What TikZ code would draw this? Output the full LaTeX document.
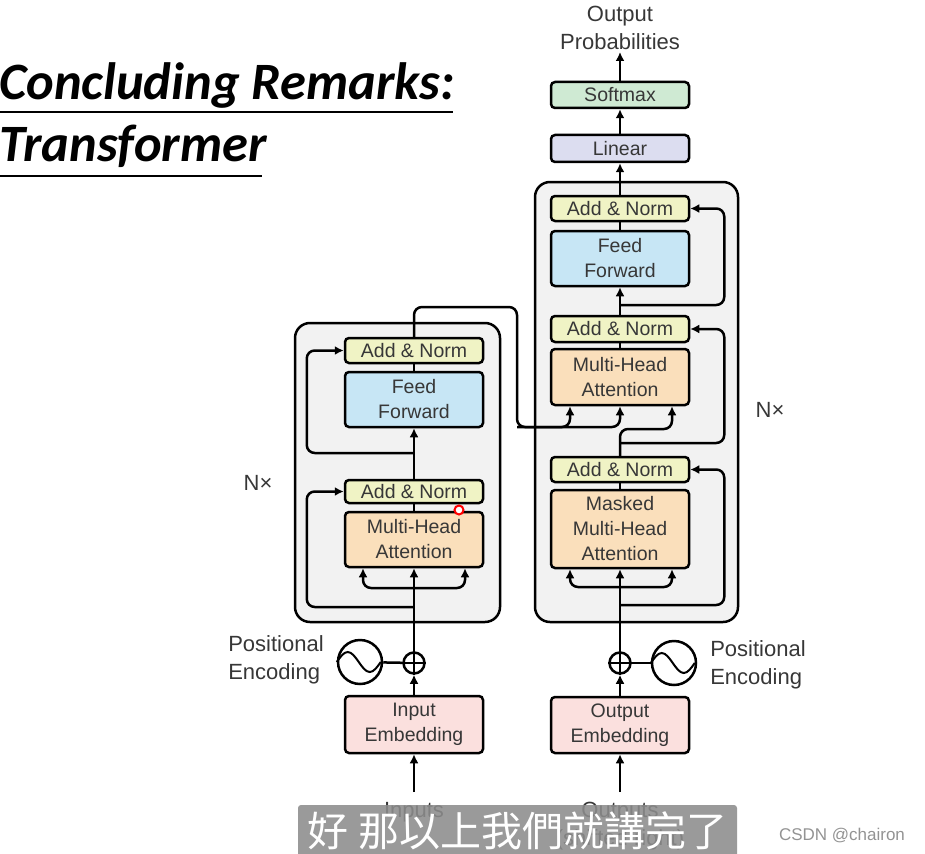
\documentclass[tikz,border=0pt]{standalone}
\usepackage{fontspec}
\setmainfont{Liberation Sans}
\newfontfamily\titlefont{Carlito}
\newfontfamily\cjk{Noto Sans CJK TC}
\usetikzlibrary{arrows.meta}
\definecolor{txt}{RGB}{55,55,55}
\definecolor{annorm}{RGB}{240,243,197}
\definecolor{ffblue}{RGB}{199,230,245}
\definecolor{attn}{RGB}{250,223,187}
\definecolor{smax}{RGB}{207,234,211}
\definecolor{lin}{RGB}{220,221,240}
\definecolor{embed}{RGB}{251,224,222}
\definecolor{stack}{RGB}{242,242,242}
\definecolor{subgray}{RGB}{140,140,140}

\begin{document}
\begin{tikzpicture}[x=1pt,y=-1pt]
    \tikzstyle{block}=[draw, line width=2.5pt, rounded corners=4pt, minimum width=138pt, inner sep=0pt, align=center, text=txt, font=\fontsize{19.5}{25}\selectfont]
    \tikzstyle{addnorm}=[block, fill=annorm, minimum height=25pt]
    \tikzstyle{feedfwd}=[block, fill=ffblue, minimum height=55pt]
    \tikzstyle{mha}=[block, fill=attn, minimum height=56pt]
    \tikzstyle{embedding}=[block, fill=embed, minimum height=57pt]
    \tikzstyle{stackbox}=[draw, fill=stack, line width=2.5pt, rounded corners=15pt]
    \tikzstyle{oplus}=[circle, draw, line width=2.5pt, minimum size=21pt, inner sep=0pt]
    \tikzstyle{wave}=[circle, draw, line width=2.5pt, minimum size=44pt, inner sep=0pt]
    \tikzstyle{lbl}=[text=txt, align=center, inner sep=2pt, font=\fontsize{22}{28}\selectfont]
    \tikzstyle{wire}=[line width=2.5pt, rounded corners=8pt]
    \tikzstyle{arr}=[wire, -{Latex[length=9pt,width=9pt]}]
    \useasboundingbox (0,0) rectangle (925,853);

    % title
    \node[anchor=base west, inner sep=0pt, font=\titlefont\bfseries\itshape\fontsize{52.5}{60}\selectfont] (title1) at (-1,100) {Concluding Remarks:};
    \node[anchor=base west, inner sep=0pt, font=\titlefont\bfseries\itshape\fontsize{52.5}{60}\selectfont] (title2) at (-1,161) {Transformer};
    \draw[line width=2pt] (0,112) -- (453,112);
    \draw[line width=2pt] (0,176) -- (262,176);

    % stacks
    \node[stackbox, minimum width=205pt, minimum height=299pt] (encBox) at (397.5,472.5) {};
    \node[stackbox, minimum width=203pt, minimum height=440pt] (decBox) at (636.5,402) {};

    % encoder
    \node[embedding] (encIn) at (414,724.5) {Input\\Embedding};
    \node[oplus] (encAdd) at (414,663) {};
    \draw[line width=2pt] (encAdd.north) -- (encAdd.south) (encAdd.west) -- (encAdd.east);
    \node[wave] (encPE) at (360,662) {};
    \draw[line width=2pt] (encPE.west) sin ++(11,-10) cos ++(11,10) sin ++(11,10) cos ++(11,-10);
    \node[mha, minimum height=55pt] (encMHA) at (414,539.5) {Multi-Head\\Attention};
    \node[addnorm, minimum height=23pt] (encAN1) at (414,491.5) {Add \& Norm};
    \node[feedfwd] (encFF) at (414,399.5) {Feed\\Forward};
    \node[addnorm] (encAN2) at (414,350.5) {Add \& Norm};

    % decoder
    \node[embedding, minimum height=56pt] (decIn) at (620,725) {Output\\Embedding};
    \node[oplus] (decAdd) at (620,663) {};
    \draw[line width=2pt] (decAdd.north) -- (decAdd.south) (decAdd.west) -- (decAdd.east);
    \node[wave] (decPE) at (674,663) {};
    \draw[line width=2pt] (decPE.west) sin ++(11,-10) cos ++(11,10) sin ++(11,10) cos ++(11,-10);
    \node[mha, minimum height=78pt] (decMMHA) at (620,529) {Masked\\Multi-Head\\Attention};
    \node[addnorm] (decAN1) at (620,469.5) {Add \& Norm};
    \node[mha] (decMHA) at (620,377) {Multi-Head\\Attention};
    \node[addnorm, minimum height=26pt] (decAN2) at (620,329) {Add \& Norm};
    \node[feedfwd] (decFF) at (620,258.5) {Feed\\Forward};
    \node[addnorm] (decAN3) at (620,208.5) {Add \& Norm};
    \node[block, fill=lin, minimum height=27pt] (linear) at (620,148.5) {Linear};
    \node[block, fill=smax, minimum height=26pt] (softmax) at (620,95) {Softmax};
    \node[lbl] (outProb) at (620,28) {Output\\Probabilities};

    % labels
    \node[lbl] (encN) at (258,483) {N×};
    \node[lbl] (decN) at (770,410) {N×};
    \node[lbl, align=left] (encPosLbl) at (276,660) {Positional\\Encoding};
    \node[lbl, align=left] (decPosLbl) at (758,665) {Positional\\Encoding};

    % encoder wires
    \coordinate (inputs) at (414,792);
    \coordinate (encSplit) at (414,588);
    \coordinate (encRes1) at (414,607);
    \coordinate (encRes2) at (414,453);
    \draw[arr] (inputs) -- (encIn);
    \draw[arr] (encIn) -- (encAdd);
    \draw[wire] (encPE) -- (encAdd);
    \draw[arr] (encAdd) -- (encMHA);
    \draw[arr] (encSplit) -| ([xshift=-51pt]encMHA.south);
    \draw[arr] (encSplit) -| ([xshift=51pt]encMHA.south);
    \draw[arr] (encRes1) -| ([xshift=-37pt]encAN1.west) -- (encAN1.west);
    \draw[wire] (encMHA) -- (encAN1);
    \draw[arr] (encAN1) -- (encFF);
    \draw[arr] (encRes2) -| ([xshift=-37pt]encAN2.west) -- (encAN2.west);
    \draw[wire] (encFF) -- (encAN2);

    % encoder to decoder
    \coordinate (memTop) at (517,307);
    \coordinate (memLow) at (517,427);
    \draw[arr] (encAN2.north) |- (memTop) -- (memLow) -| ([xshift=-50pt]decMHA.south);
    \draw[arr] (memLow) -| (decMHA.south);

    % decoder wires
    \coordinate (outputs) at (620,792);
    \coordinate (decSplit) at (620,587);
    \coordinate (decRes1) at (620,605);
    \coordinate (decQ) at (620,429);
    \coordinate (decRes2) at (620,443);
    \coordinate (decRes3) at (620,305);
    \draw[arr] (outputs) -- (decIn);
    \draw[arr] (decIn) -- (decAdd);
    \draw[wire] (decPE) -- (decAdd);
    \draw[arr] (decAdd) -- (decMMHA);
    \draw[arr] (decSplit) -| ([xshift=-50pt]decMMHA.south);
    \draw[arr] (decSplit) -| ([xshift=52pt]decMMHA.south);
    \draw[arr] (decRes1) -| ([xshift=34pt]decAN1.east) -- (decAN1.east);
    \draw[wire] (decMMHA) -- (decAN1);
    \draw[arr] (decAN1.north) -- (decQ) -| ([xshift=52pt]decMHA.south);
    \draw[arr] (decRes2) -| ([xshift=34pt]decAN2.east) -- (decAN2.east);
    \draw[wire] (decMHA) -- (decAN2);
    \draw[arr] (decAN2) -- (decFF);
    \draw[arr] (decRes3) -| ([xshift=34pt]decAN3.east) -- (decAN3.east);
    \draw[wire] (decFF) -- (decAN3);
    \draw[arr] (decAN3) -- (linear);
    \draw[arr] (linear) -- (softmax);
    \draw[arr] (softmax) -- (outProb);

    % inputs / outputs, under the subtitle
    \node[lbl] (inputsLbl) at (414,812) {Inputs};
    \node[lbl] (outputsLbl) at (620,826) {Outputs\\(shifted right)};

    % cursor mark
    \node[circle, draw=red, fill=white, line width=2pt, minimum size=9pt, inner sep=0pt] (cursor) at (459,510) {};

    % subtitle and watermark
    \node[fill=subgray, fill opacity=0.88, text opacity=1, rounded corners=3pt, minimum width=439pt, minimum height=52pt, inner sep=0pt, text=white, font=\cjk\fontsize{41}{41}\selectfont] (subtitle) at (517.5,831) {好 那以上我們就講完了};
    \node[text=gray!85, font=\fontsize{17}{17}\selectfont] (csdn) at (842,836) {CSDN @chairon};
\end{tikzpicture}
\end{document}
